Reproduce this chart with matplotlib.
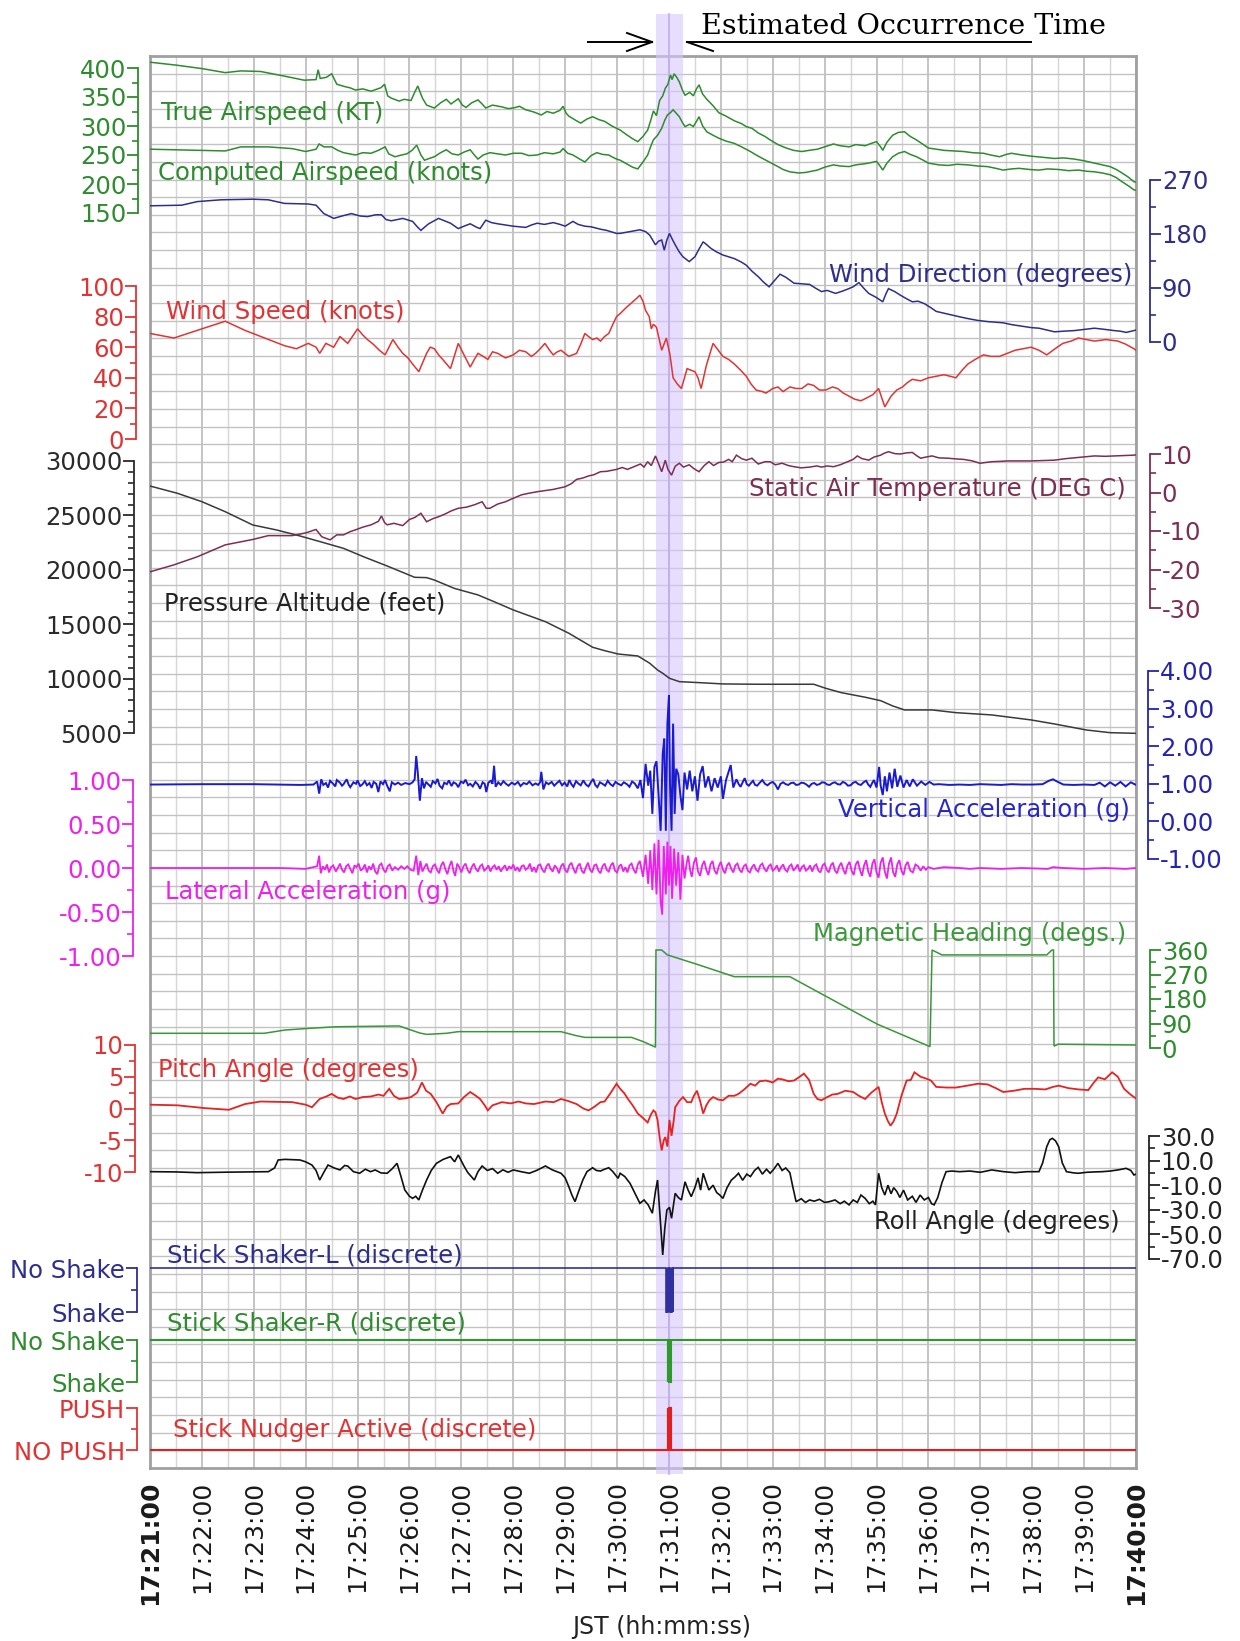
import numpy as np
import matplotlib
matplotlib.use('Agg')
import matplotlib.pyplot as plt
import matplotlib.ticker as mticker
from matplotlib.patches import Rectangle
from matplotlib.lines import Line2D
from matplotlib.transforms import blended_transform_factory

plt.rcParams['font.family'] = ['DejaVu Sans']
plt.rcParams['axes.unicode_minus'] = False

# ---- data: time in minutes after 17:21:00 ----
time_labels = ['17:%02d:00' % m for m in range(21, 41)]
event_start, event_end, event_mid = 9.75, 10.27, 10.0

true_airspeed = [(0.00,410),(0.50,405),(1.00,399),(1.45,392),(1.75,395),(2.13,394),(2.59,386),(2.97,379),(3.20,380),(3.24,397),(3.28,382),(3.40,384),(3.50,390),(3.60,372),(3.75,368),(3.85,366),(3.96,362),(4.10,364),(4.26,360),(4.45,366),(4.52,372),(4.58,352),(4.65,348),(4.80,343),(4.90,346),(5.03,344),(5.10,358),(5.16,369),(5.25,348),(5.33,336),(5.48,331),(5.60,340),(5.71,346),(5.80,338),(5.94,347),(6.02,336),(6.09,332),(6.20,340),(6.32,345),(6.40,338),(6.47,331),(6.60,336),(6.78,333),(6.90,330),(7.00,331),(7.12,334),(7.24,328),(7.40,324),(7.54,319),(7.65,325),(7.77,322),(7.90,327),(7.96,334),(8.02,322),(8.07,317),(8.20,310),(8.30,305),(8.42,312),(8.53,316),(8.65,311),(8.76,308),(8.90,300),(8.99,296),(9.06,293),(9.20,284),(9.30,278),(9.40,273),(9.50,282),(9.59,293),(9.65,310),(9.70,326),(9.76,318),(9.82,344),(9.88,352),(9.93,365),(9.98,372),(10.03,388),(10.06,380),(10.10,390),(10.15,384),(10.20,376),(10.26,362),(10.31,353),(10.40,358),(10.47,352),(10.53,364),(10.58,371),(10.65,355),(10.73,346),(10.85,335),(10.96,323),(11.10,317),(11.26,309),(11.40,304),(11.49,299),(11.60,296),(11.72,288),(11.85,282),(11.95,276),(12.10,268),(12.26,262),(12.40,258),(12.56,256),(12.70,258),(12.86,260),(13.00,264),(13.17,269),(13.30,266),(13.47,264),(13.60,268),(13.78,266),(13.90,270),(14.00,273),(14.08,264),(14.12,258),(14.20,272),(14.31,284),(14.42,289),(14.54,290),(14.65,282),(14.77,276),(14.90,268),(15.00,262),(15.15,260),(15.30,258),(15.50,257),(15.68,256),(15.85,254),(16.06,253),(16.20,250),(16.37,247),(16.50,251),(16.60,253),(16.80,250),(16.98,248),(17.20,246),(17.43,244),(17.60,245),(17.81,243),(18.00,240),(18.20,236),(18.35,233),(18.50,230),(18.62,225),(18.73,219),(18.85,212),(18.96,204),(19.00,203)]

computed_airspeed = [(0.00,260),(0.50,259),(1.00,258),(1.45,257),(1.75,264),(2.28,264),(2.74,261),(3.00,256),(3.20,260),(3.26,269),(3.35,264),(3.50,264),(3.62,258),(3.73,254),(3.85,252),(3.96,250),(4.10,254),(4.26,253),(4.40,258),(4.53,264),(4.60,252),(4.72,247),(4.85,250),(4.95,252),(5.05,258),(5.14,267),(5.22,250),(5.29,241),(5.38,244),(5.48,247),(5.60,254),(5.71,259),(5.82,252),(5.94,250),(6.05,255),(6.17,259),(6.25,250),(6.32,243),(6.42,250),(6.55,254),(6.70,252),(6.85,250),(7.00,253),(7.16,253),(7.30,249),(7.46,250),(7.60,254),(7.77,252),(7.90,255),(7.96,261),(8.05,253),(8.15,250),(8.28,243),(8.38,238),(8.50,249),(8.61,254),(8.72,251),(8.84,250),(8.92,246),(8.99,243),(9.06,241),(9.20,234),(9.30,229),(9.40,226),(9.50,238),(9.59,250),(9.65,265),(9.70,276),(9.78,284),(9.86,296),(9.92,310),(9.97,319),(10.03,323),(10.08,328),(10.14,322),(10.20,316),(10.26,306),(10.31,299),(10.40,303),(10.47,299),(10.53,308),(10.58,316),(10.65,300),(10.73,290),(10.85,284),(10.96,279),(11.10,274),(11.26,270),(11.40,264),(11.57,256),(11.70,249),(11.87,241),(12.00,235),(12.10,230),(12.20,225),(12.33,221),(12.50,219),(12.64,220),(12.75,222),(12.86,224),(13.00,229),(13.17,233),(13.30,231),(13.47,230),(13.60,233),(13.78,235),(13.90,237),(14.00,239),(14.06,232),(14.12,224),(14.20,236),(14.31,247),(14.42,253),(14.54,256),(14.65,251),(14.77,247),(14.90,241),(15.00,236),(15.20,233),(15.38,232),(15.55,234),(15.76,233),(15.95,231),(16.14,230),(16.30,227),(16.44,224),(16.60,226),(16.75,227),(16.95,225),(17.13,224),(17.30,226),(17.51,225),(17.70,223),(17.89,224),(18.05,222),(18.20,221),(18.35,219),(18.50,216),(18.62,211),(18.73,204),(18.85,197),(18.96,190),(19.00,189)]

wind_direction = [(0.00,227),(0.61,228),(0.91,234),(1.37,237),(1.98,238),(2.28,237),(2.59,231),(3.05,230),(3.20,228),(3.35,214),(3.54,206),(3.70,210),(3.88,214),(4.05,210),(4.19,209),(4.35,212),(4.46,212),(4.55,204),(4.65,202),(4.87,206),(5.06,201),(5.15,192),(5.22,186),(5.30,192),(5.37,197),(5.56,206),(5.79,198),(5.94,189),(6.05,193),(6.17,197),(6.30,191),(6.36,189),(6.47,203),(6.58,199),(6.70,197),(6.85,195),(7.00,193),(7.24,191),(7.35,195),(7.46,198),(7.60,196),(7.77,199),(7.90,196),(8.00,193),(8.15,201),(8.25,196),(8.38,193),(8.50,192),(8.68,188),(8.80,186),(8.99,181),(9.06,181),(9.25,184),(9.44,187),(9.55,184),(9.63,178),(9.74,162),(9.80,168),(9.86,170),(9.91,153),(9.96,170),(10.01,181),(10.06,172),(10.12,162),(10.20,150),(10.27,142),(10.39,134),(10.50,142),(10.58,155),(10.66,167),(10.73,162),(10.81,156),(10.92,150),(11.04,145),(11.15,142),(11.26,139),(11.40,133),(11.49,128),(11.60,118),(11.72,109),(11.82,100),(11.93,92),(12.03,102),(12.14,113),(12.25,108),(12.41,98),(12.55,97),(12.71,96),(12.82,90),(12.94,84),(13.05,86),(13.21,81),(13.35,85),(13.44,88),(13.55,92),(13.66,99),(13.75,90),(13.85,81),(14.00,74),(14.12,67),(14.18,80),(14.23,89),(14.35,84),(14.46,78),(14.58,72),(14.69,67),(14.80,68),(14.92,64),(15.05,57),(15.15,51),(15.30,48),(15.45,45),(15.60,42),(15.76,39),(15.95,36),(16.14,34),(16.30,33),(16.44,32),(16.60,29),(16.82,26),(16.98,24),(17.13,23),(17.28,20),(17.43,17),(17.60,18),(17.81,19),(18.00,21),(18.20,23),(18.40,21),(18.58,19),(18.70,18),(18.81,16),(18.96,19),(19.00,20)]

wind_speed = [(0.00,69),(0.46,66),(0.91,71),(1.45,77),(1.83,71),(2.21,66),(2.59,61),(2.82,59),(3.05,62.5),(3.20,60),(3.27,56),(3.39,62.5),(3.54,60),(3.66,67),(3.81,62.5),(4.00,72),(4.10,68),(4.19,65),(4.30,62),(4.42,58),(4.53,55),(4.68,65),(4.78,60),(4.87,56),(4.97,53),(5.06,49),(5.18,44),(5.33,56),(5.40,60),(5.48,59),(5.56,55),(5.64,52),(5.79,46),(5.94,62.5),(6.05,55),(6.17,47),(6.25,52),(6.32,56),(6.42,54),(6.51,52),(6.60,57),(6.70,56),(6.85,53),(7.00,55),(7.12,58),(7.24,57),(7.35,54),(7.43,56),(7.52,59),(7.61,62.5),(7.70,58),(7.77,55),(7.85,57),(7.92,58),(8.07,54),(8.22,56),(8.30,62),(8.38,69),(8.45,67),(8.53,65),(8.61,66),(8.68,64),(8.76,67),(8.84,69),(8.92,75),(8.99,80),(9.06,82),(9.18,86),(9.28,89),(9.38,92),(9.44,94),(9.50,90),(9.55,84),(9.62,80),(9.66,72),(9.70,75),(9.76,73),(9.82,64),(9.86,58),(9.95,66),(10.02,55),(10.08,40),(10.16,36),(10.24,33),(10.30,40),(10.35,46),(10.42,45),(10.50,44),(10.56,40),(10.62,33),(10.72,48),(10.85,62.5),(10.95,58),(11.04,54),(11.15,52),(11.26,49),(11.38,45),(11.49,41),(11.58,36),(11.68,32),(11.80,31),(11.87,30),(12.00,33),(12.10,34),(12.20,31),(12.33,34),(12.45,33),(12.56,33),(12.68,36),(12.79,35),(12.90,32),(13.02,32),(13.15,34),(13.25,33),(13.36,30),(13.47,28),(13.58,26),(13.70,25),(13.82,27),(13.93,29),(14.04,33),(14.10,27),(14.16,21),(14.28,28),(14.39,32),(14.50,34),(14.60,37),(14.69,39),(14.85,38),(15.00,40),(15.15,41),(15.30,42),(15.42,41),(15.53,40),(15.65,45),(15.76,49),(15.90,52),(16.06,55),(16.20,54),(16.37,54),(16.52,56),(16.67,58),(16.82,59),(16.98,60),(17.13,58),(17.28,55),(17.44,59),(17.59,62.5),(17.75,64),(17.89,66),(18.05,65),(18.20,64),(18.42,65),(18.65,64),(18.80,62),(18.96,59),(19.00,58)]

static_air_temp = [(0.00,-20.6),(0.46,-18.8),(0.91,-16.7),(1.45,-13.6),(1.98,-12.2),(2.28,-11.2),(2.74,-11.2),(3.00,-10.5),(3.20,-9.6),(3.31,-11.5),(3.47,-12.3),(3.60,-11.0),(3.73,-11.0),(3.85,-10.2),(3.96,-9.7),(4.10,-9.0),(4.26,-8.4),(4.40,-7.5),(4.46,-6.1),(4.52,-7.8),(4.57,-8.4),(4.70,-8.0),(4.87,-8.6),(5.00,-7.0),(5.10,-6.5),(5.22,-5.4),(5.33,-7.6),(5.45,-6.8),(5.56,-6.3),(5.70,-5.5),(5.80,-4.8),(5.94,-4.1),(6.10,-3.8),(6.25,-3.2),(6.40,-2.4),(6.48,-4.1),(6.55,-4.1),(6.70,-3.0),(6.85,-2.4),(7.00,-1.5),(7.16,-0.6),(7.30,-0.2),(7.46,0.2),(7.62,0.5),(7.77,0.8),(7.90,1.2),(8.00,1.5),(8.12,2.3),(8.22,3.4),(8.35,3.8),(8.45,4.3),(8.55,4.6),(8.68,5.4),(8.80,5.5),(8.99,6.0),(9.10,6.5),(9.20,6.0),(9.36,6.9),(9.45,7.4),(9.52,6.6),(9.59,8.0),(9.66,7.0),(9.74,9.5),(9.80,7.5),(9.86,5.4),(9.93,8.4),(9.98,6.0),(10.05,4.5),(10.12,6.8),(10.20,7.6),(10.28,6.6),(10.39,7.2),(10.48,6.2),(10.58,5.4),(10.68,7.0),(10.77,8.0),(10.86,7.0),(10.96,7.8),(11.05,7.9),(11.15,8.6),(11.22,8.0),(11.30,9.7),(11.40,8.8),(11.49,8.4),(11.60,8.9),(11.72,7.4),(11.85,8.0),(11.95,8.0),(12.05,7.2),(12.18,7.6),(12.30,7.0),(12.41,6.7),(12.55,6.4),(12.71,6.6),(12.85,6.9),(12.94,6.6),(13.05,6.9),(13.17,6.7),(13.30,7.2),(13.44,8.0),(13.55,8.6),(13.63,9.5),(13.72,8.8),(13.85,8.4),(13.95,9.2),(14.08,9.7),(14.15,10.2),(14.23,10.6),(14.35,10.1),(14.46,10.0),(14.58,10.3),(14.69,10.4),(14.77,9.6),(14.85,8.9),(14.95,9.2),(15.07,9.5),(15.20,9.0),(15.38,8.9),(15.55,8.7),(15.68,8.6),(15.85,8.2),(15.99,7.6),(16.10,7.8),(16.22,8.0),(16.40,8.1),(16.52,8.2),(16.75,8.2),(16.98,8.2),(17.20,8.3),(17.43,8.4),(17.65,8.8),(17.89,9.1),(18.05,9.3),(18.20,9.5),(18.40,9.4),(18.58,9.5),(18.80,9.6),(18.96,9.7),(19.00,9.8)]

pressure_altitude = [(0.00,27700),(0.53,27030),(1.00,26260),(1.45,25340),(1.98,24120),(2.44,23660),(2.89,23110),(3.35,22490),(3.73,21970),(4.11,21210),(4.57,20350),(5.10,19310),(5.33,19280),(5.48,19060),(5.86,18300),(6.32,17690),(6.63,17070),(7.00,16310),(7.62,15230),(8.07,14170),(8.53,12880),(8.76,12570),(9.02,12260),(9.40,12080),(9.63,11410),(9.78,10790),(9.88,10490),(10.01,10030),(10.20,9720),(10.58,9630),(11.04,9510),(11.72,9480),(12.79,9480),(13.02,9110),(13.32,8710),(13.78,8290),(14.08,7970),(14.31,7490),(14.54,7120),(15.07,7120),(15.53,6870),(16.22,6660),(16.98,6200),(17.43,5830),(18.04,5280),(18.50,5030),(19.00,4970)]

vertical_accel = [(0.00,0.98),(1.00,0.99),(2.00,0.99),(2.90,0.97),(3.15,0.98),(3.22,1.06),(3.26,0.74),(3.30,1.12),(3.34,0.97),(3.39,1.02),(3.43,0.90),(3.47,1.08),(3.53,1.00),(3.57,0.93),(3.60,1.10),(3.66,1.03),(3.70,0.95),(3.73,0.99),(3.79,1.12),(3.83,0.97),(3.86,0.91),(3.92,1.04),(3.97,1.00),(4.00,1.09),(4.05,0.94),(4.09,0.98),(4.14,1.07),(4.18,0.96),(4.23,1.02),(4.27,0.89),(4.31,1.05),(4.36,1.00),(4.40,0.78),(4.44,1.06),(4.49,0.99),(4.53,1.10),(4.57,0.95),(4.62,0.80),(4.66,1.04),(4.72,0.98),(4.78,1.03),(4.84,0.97),(4.92,1.02),(5.00,0.99),(5.06,1.04),(5.10,1.12),(5.13,1.74),(5.16,1.30),(5.20,0.55),(5.24,1.15),(5.28,0.88),(5.32,1.05),(5.36,0.99),(5.41,0.92),(5.45,1.07),(5.50,1.01),(5.54,1.13),(5.58,0.95),(5.63,0.88),(5.67,1.03),(5.72,0.99),(5.76,1.09),(5.81,0.94),(5.85,1.04),(5.90,1.00),(5.94,0.91),(5.99,1.06),(6.04,1.02),(6.08,1.11),(6.13,0.96),(6.17,1.00),(6.22,0.93),(6.27,1.05),(6.32,0.98),(6.36,0.87),(6.41,1.04),(6.45,1.00),(6.48,0.78),(6.52,1.03),(6.57,1.08),(6.60,1.00),(6.63,1.48),(6.66,0.92),(6.71,1.04),(6.76,0.97),(6.81,1.07),(6.86,1.00),(6.91,0.95),(6.97,1.03),(7.03,0.98),(7.09,1.05),(7.14,0.94),(7.20,1.02),(7.26,0.99),(7.31,1.06),(7.37,0.96),(7.43,1.01),(7.48,0.97),(7.52,1.05),(7.54,1.32),(7.58,0.85),(7.63,1.04),(7.68,0.99),(7.74,1.05),(7.79,0.95),(7.84,1.02),(7.89,1.08),(7.94,0.96),(7.99,1.03),(8.04,0.93),(8.08,1.10),(8.12,0.99),(8.16,0.92),(8.21,1.07),(8.26,1.00),(8.30,0.96),(8.35,1.09),(8.40,0.98),(8.45,0.93),(8.50,1.05),(8.54,1.13),(8.58,0.97),(8.62,0.91),(8.67,1.04),(8.72,1.00),(8.77,0.95),(8.82,1.08),(8.87,0.99),(8.92,0.94),(8.97,1.05),(9.02,1.00),(9.08,0.96),(9.13,1.04),(9.19,0.99),(9.24,0.92),(9.29,1.06),(9.34,1.01),(9.40,0.88),(9.45,1.10),(9.50,0.62),(9.55,1.53),(9.60,0.95),(9.64,1.35),(9.68,0.20),(9.72,1.45),(9.76,1.60),(9.80,0.70),(9.84,-0.25),(9.88,1.80),(9.91,2.20),(9.94,-0.25),(9.97,2.60),(10.00,3.35),(10.02,1.00),(10.05,-0.25),(10.08,2.60),(10.11,0.20),(10.14,1.40),(10.18,1.25),(10.22,0.70),(10.26,0.30),(10.30,1.30),(10.35,0.85),(10.40,1.35),(10.45,0.80),(10.50,1.20),(10.55,0.55),(10.60,1.25),(10.65,1.47),(10.70,0.90),(10.76,1.20),(10.82,0.80),(10.88,1.15),(10.94,0.90),(11.00,1.20),(11.04,0.60),(11.10,1.10),(11.19,1.50),(11.24,0.90),(11.30,1.12),(11.34,1.00),(11.38,0.92),(11.42,1.04),(11.46,1.15),(11.50,0.99),(11.54,0.95),(11.58,1.02),(11.62,1.08),(11.66,0.97),(11.70,0.95),(11.75,1.03),(11.80,1.10),(11.85,1.00),(11.90,0.96),(11.95,1.02),(12.00,1.05),(12.05,0.98),(12.10,0.85),(12.15,1.00),(12.20,1.04),(12.25,0.99),(12.30,0.97),(12.35,1.02),(12.40,1.03),(12.45,0.97),(12.50,0.98),(12.55,1.03),(12.60,1.02),(12.65,0.98),(12.70,0.92),(12.75,1.00),(12.80,1.02),(12.85,0.97),(12.90,0.99),(12.95,1.04),(13.00,1.03),(13.05,0.98),(13.10,0.97),(13.15,1.02),(13.20,1.04),(13.25,0.99),(13.30,0.98),(13.35,1.05),(13.40,1.02),(13.45,0.95),(13.50,0.96),(13.55,1.03),(13.60,1.05),(13.65,0.99),(13.70,0.97),(13.75,1.04),(13.80,1.08),(13.84,0.98),(13.88,0.92),(13.92,1.03),(13.95,1.10),(14.00,0.90),(14.05,1.45),(14.08,0.95),(14.12,0.70),(14.16,1.20),(14.20,0.80),(14.25,1.30),(14.30,0.88),(14.35,1.40),(14.40,0.92),(14.46,1.22),(14.52,0.90),(14.58,1.10),(14.64,0.93),(14.70,1.12),(14.78,0.95),(14.86,1.06),(14.94,0.97),(15.02,1.05),(15.10,0.98),(15.20,0.99),(15.40,0.97),(15.60,0.98),(15.80,0.97),(16.00,0.99),(16.20,0.98),(16.40,0.97),(16.60,0.99),(16.80,0.98),(17.00,0.98),(17.20,0.99),(17.32,1.08),(17.40,1.12),(17.48,1.06),(17.60,0.98),(17.80,0.97),(18.00,0.98),(18.20,0.97),(18.30,1.03),(18.40,0.93),(18.50,1.04),(18.60,0.95),(18.70,1.05),(18.80,0.93),(18.90,1.04),(19.00,0.97)]

lateral_accel = [(0.00,0.00),(2.50,0.00),(3.00,-0.01),(3.22,0.02),(3.26,0.14),(3.29,-0.06),(3.33,0.02),(3.37,-0.02),(3.41,0.04),(3.45,-0.05),(3.49,0.01),(3.53,0.03),(3.58,-0.04),(3.62,0.00),(3.66,0.05),(3.70,-0.02),(3.74,-0.05),(3.78,0.02),(3.82,0.04),(3.86,-0.01),(3.90,-0.06),(3.94,0.03),(3.98,0.01),(4.02,0.05),(4.06,-0.03),(4.10,-0.01),(4.14,0.04),(4.18,-0.05),(4.22,0.02),(4.26,-0.02),(4.30,0.05),(4.34,-0.04),(4.38,-0.07),(4.42,0.03),(4.46,0.05),(4.50,-0.02),(4.54,-0.05),(4.58,0.02),(4.62,0.04),(4.67,-0.03),(4.72,0.01),(4.78,-0.02),(4.84,0.02),(4.90,-0.01),(4.96,0.02),(5.02,-0.02),(5.08,-0.03),(5.13,0.14),(5.17,-0.08),(5.21,0.08),(5.25,-0.04),(5.29,0.01),(5.33,0.05),(5.37,-0.03),(5.41,-0.05),(5.45,0.02),(5.49,0.04),(5.53,-0.02),(5.57,-0.06),(5.61,0.03),(5.65,0.07),(5.69,-0.01),(5.73,-0.07),(5.77,0.02),(5.81,0.08),(5.85,-0.04),(5.88,-0.09),(5.92,0.05),(5.96,0.01),(6.00,-0.05),(6.04,0.02),(6.08,0.05),(6.12,-0.02),(6.16,-0.06),(6.20,0.01),(6.24,0.05),(6.28,-0.01),(6.32,-0.04),(6.36,0.02),(6.40,0.04),(6.44,-0.03),(6.48,-0.01),(6.52,0.03),(6.56,-0.04),(6.60,0.01),(6.64,0.03),(6.68,-0.02),(6.72,0.02),(6.76,-0.04),(6.80,0.00),(6.84,0.03),(6.88,-0.03),(6.92,0.02),(6.96,-0.01),(7.00,0.04),(7.04,-0.03),(7.08,0.01),(7.12,-0.04),(7.16,0.02),(7.20,0.03),(7.24,-0.02),(7.28,0.00),(7.32,0.05),(7.36,-0.04),(7.40,0.01),(7.44,-0.05),(7.48,0.03),(7.52,0.04),(7.56,-0.02),(7.60,-0.05),(7.64,0.02),(7.68,0.05),(7.72,-0.01),(7.76,-0.04),(7.80,0.03),(7.84,0.00),(7.88,-0.06),(7.92,0.02),(7.96,0.05),(8.00,-0.02),(8.04,-0.05),(8.08,0.03),(8.12,0.06),(8.16,-0.01),(8.20,-0.06),(8.24,0.02),(8.28,0.05),(8.32,-0.03),(8.36,-0.06),(8.40,0.01),(8.44,0.06),(8.48,-0.02),(8.52,-0.05),(8.56,0.03),(8.60,0.04),(8.64,-0.03),(8.68,-0.06),(8.72,0.02),(8.76,0.05),(8.80,-0.02),(8.84,-0.04),(8.88,0.03),(8.92,0.06),(8.96,-0.03),(9.00,-0.05),(9.04,0.02),(9.08,0.04),(9.12,-0.04),(9.16,0.01),(9.20,-0.05),(9.24,0.03),(9.28,0.05),(9.32,-0.02),(9.36,-0.06),(9.40,0.04),(9.44,0.08),(9.50,-0.10),(9.55,0.15),(9.60,-0.18),(9.64,0.20),(9.68,-0.25),(9.72,0.28),(9.76,-0.30),(9.80,0.32),(9.84,-0.38),(9.87,-0.53),(9.90,0.25),(9.94,-0.30),(9.97,0.30),(10.00,-0.20),(10.03,0.25),(10.06,-0.35),(10.10,0.22),(10.14,-0.20),(10.18,0.18),(10.22,-0.36),(10.26,0.15),(10.30,-0.12),(10.34,0.05),(10.37,0.14),(10.41,-0.03),(10.44,-0.10),(10.48,0.06),(10.52,0.12),(10.56,-0.04),(10.60,-0.09),(10.64,0.03),(10.68,0.08),(10.72,-0.02),(10.76,-0.08),(10.80,0.04),(10.84,0.08),(10.88,-0.03),(10.92,-0.07),(10.96,0.02),(11.00,0.07),(11.04,-0.02),(11.08,-0.06),(11.12,0.03),(11.16,0.06),(11.20,-0.01),(11.24,-0.05),(11.28,0.03),(11.32,0.05),(11.36,-0.02),(11.40,-0.05),(11.44,0.02),(11.48,0.04),(11.52,-0.03),(11.56,-0.05),(11.60,0.01),(11.64,0.04),(11.68,-0.02),(11.72,-0.04),(11.76,0.03),(11.80,0.05),(11.84,-0.01),(11.88,-0.04),(11.92,0.02),(11.96,0.04),(12.00,-0.03),(12.04,-0.01),(12.08,0.03),(12.12,-0.04),(12.16,0.01),(12.20,0.04),(12.24,-0.02),(12.28,-0.04),(12.32,0.02),(12.36,0.04),(12.40,-0.03),(12.44,0.00),(12.48,0.04),(12.52,-0.04),(12.56,0.01),(12.60,0.03),(12.64,-0.03),(12.68,-0.01),(12.72,0.03),(12.76,-0.04),(12.80,0.02),(12.84,0.04),(12.88,-0.03),(12.92,-0.05),(12.96,0.03),(13.00,0.05),(13.04,-0.02),(13.08,-0.05),(13.12,0.03),(13.16,0.06),(13.20,-0.03),(13.24,-0.06),(13.28,0.02),(13.32,0.06),(13.36,-0.02),(13.40,-0.07),(13.44,0.03),(13.48,0.07),(13.52,-0.03),(13.56,-0.08),(13.60,0.04),(13.64,0.08),(13.68,-0.02),(13.72,-0.09),(13.76,0.03),(13.80,0.09),(13.84,-0.04),(13.88,-0.10),(13.92,0.05),(13.96,0.10),(14.00,-0.05),(14.04,-0.11),(14.08,0.06),(14.12,0.12),(14.16,-0.04),(14.20,-0.12),(14.24,0.05),(14.28,0.12),(14.32,-0.05),(14.36,-0.10),(14.40,0.04),(14.44,0.09),(14.48,-0.03),(14.52,-0.08),(14.56,0.03),(14.60,0.07),(14.65,-0.03),(14.70,-0.05),(14.75,0.04),(14.80,0.02),(14.85,-0.03),(14.90,0.02),(14.95,-0.02),(15.00,0.01),(15.10,-0.01),(15.30,0.01),(15.60,0.00),(15.80,-0.01),(16.00,0.00),(16.40,-0.01),(16.80,0.00),(17.30,-0.01),(17.40,0.01),(17.60,0.00),(18.00,-0.01),(18.40,0.00),(18.80,-0.01),(19.00,0.00)]

magnetic_heading = [(0.0,54),(2.2,54),(2.6,66),(3.05,72),(3.58,78),(4.8,81),(5.03,66),(5.2,55),(5.33,50),(5.71,54),(5.94,60),(7.92,60),(8.2,46),(8.38,39),(9.28,39),(9.51,23),(9.74,3),(9.75,360),(9.86,360),(9.97,342),(10.58,305),(11.26,262),(12.33,262),(14.01,88),(15.03,5),(15.07,360),(15.26,342),(17.28,342),(17.38,360),(17.41,360),(17.42,7),(17.5,14),(19.0,11)]

pitch_angle = [(0.00,0.6),(0.53,0.5),(1.07,0.05),(1.52,-0.2),(1.83,0.7),(2.13,1.1),(2.74,1.0),(3.00,0.6),(3.12,0.2),(3.27,1.5),(3.40,1.9),(3.50,2.3),(3.62,1.7),(3.73,1.5),(3.85,1.9),(3.96,1.5),(4.10,1.8),(4.26,1.9),(4.40,2.2),(4.50,2.0),(4.61,3.1),(4.70,2.0),(4.80,1.5),(4.92,1.6),(5.03,1.8),(5.15,2.5),(5.24,4.1),(5.32,2.8),(5.41,2.3),(5.52,1.0),(5.64,-0.8),(5.72,0.3),(5.79,0.7),(5.94,0.8),(6.05,1.8),(6.17,2.6),(6.28,2.0),(6.36,1.5),(6.45,0.5),(6.51,-0.3),(6.60,0.5),(6.78,1.0),(6.95,0.8),(7.10,1.1),(7.24,0.8),(7.40,0.7),(7.62,1.1),(7.78,1.0),(7.92,1.5),(8.05,1.2),(8.22,0.7),(8.35,0.0),(8.45,-0.3),(8.55,0.2),(8.68,1.0),(8.76,1.1),(8.88,2.5),(8.99,3.9),(9.06,3.1),(9.14,2.4),(9.21,1.5),(9.30,0.5),(9.40,-0.8),(9.50,-1.5),(9.59,-2.2),(9.65,-1.0),(9.70,-0.3),(9.74,-0.6),(9.78,-1.8),(9.82,-4.5),(9.86,-6.6),(9.90,-5.0),(9.93,-4.5),(9.97,-6.0),(10.01,-1.8),(10.05,-4.3),(10.09,-2.0),(10.12,0.2),(10.20,1.2),(10.27,1.8),(10.35,1.0),(10.43,1.0),(10.48,2.0),(10.54,2.8),(10.60,1.2),(10.66,-0.8),(10.72,0.5),(10.78,1.3),(10.85,1.8),(10.95,1.4),(11.04,1.3),(11.15,2.0),(11.26,2.0),(11.34,2.3),(11.45,3.0),(11.57,3.9),(11.66,3.6),(11.75,4.3),(11.87,4.4),(12.00,4.1),(12.10,4.7),(12.18,4.6),(12.30,4.3),(12.41,4.4),(12.52,5.0),(12.60,5.5),(12.70,4.5),(12.79,2.3),(12.86,1.5),(12.94,1.3),(13.05,1.8),(13.15,2.2),(13.25,2.3),(13.40,2.8),(13.55,2.6),(13.66,2.0),(13.78,1.5),(13.90,2.5),(14.04,3.4),(14.10,1.0),(14.16,-0.8),(14.22,-2.0),(14.27,-2.7),(14.33,-2.0),(14.39,-0.8),(14.48,2.0),(14.58,4.4),(14.66,4.5),(14.73,5.7),(14.85,5.0),(14.96,4.7),(15.05,4.4),(15.15,3.4),(15.35,3.3),(15.53,3.3),(15.75,3.6),(15.95,3.9),(16.14,3.8),(16.30,3.2),(16.44,2.6),(16.65,2.8),(16.85,3.1),(17.05,3.1),(17.25,3.0),(17.40,3.4),(17.51,3.6),(17.70,3.2),(17.90,3.0),(18.08,2.9),(18.18,4.0),(18.27,4.9),(18.40,4.6),(18.54,5.7),(18.65,5.0),(18.77,3.1),(18.88,2.3),(18.96,1.8),(19.00,1.6)]

roll_angle = [(0.00,1.0),(0.50,0.8),(0.91,0.2),(1.50,0.6),(2.28,1.0),(2.40,4.0),(2.47,10.5),(2.60,11.0),(2.89,10.5),(3.00,9.0),(3.12,6.4),(3.20,2.0),(3.27,-5.8),(3.35,0.5),(3.43,6.4),(3.55,4.0),(3.66,2.4),(3.75,6.0),(3.81,5.6),(3.92,1.0),(4.04,-0.3),(4.15,3.0),(4.25,1.0),(4.34,2.4),(4.45,0.0),(4.57,-0.3),(4.67,3.5),(4.76,7.8),(4.83,-2.0),(4.91,-13.9),(5.00,-19.0),(5.06,-20.7),(5.12,-19.0),(5.18,-22.0),(5.25,-14.0),(5.33,-5.8),(5.42,2.0),(5.52,7.8),(5.65,11.0),(5.79,13.2),(5.87,9.0),(5.94,14.6),(6.05,5.6),(6.12,0.5),(6.25,-5.8),(6.32,1.0),(6.40,5.6),(6.50,2.0),(6.60,3.5),(6.70,-0.3),(6.80,2.5),(6.90,0.5),(7.00,2.4),(7.15,1.0),(7.31,-0.3),(7.45,2.0),(7.62,5.6),(7.75,2.5),(7.92,-0.3),(8.00,-4.0),(8.07,-11.2),(8.13,-18.0),(8.19,-23.4),(8.26,-15.0),(8.34,-5.8),(8.42,1.0),(8.53,4.2),(8.60,2.0),(8.68,1.5),(8.76,3.0),(8.84,4.2),(8.92,1.0),(9.02,-4.4),(9.06,-0.3),(9.15,-3.0),(9.25,-8.5),(9.35,-17.0),(9.44,-24.7),(9.52,-22.0),(9.60,-26.0),(9.68,-32.8),(9.74,-15.0),(9.78,-5.8),(9.82,-30.0),(9.86,-55.0),(9.88,-66.7),(9.92,-45.0),(9.96,-30.2),(10.01,-28.0),(10.05,-36.9),(10.09,-25.0),(10.12,-16.6),(10.18,-20.0),(10.24,-22.0),(10.31,-7.2),(10.37,-14.0),(10.43,-19.3),(10.50,-12.0),(10.56,-4.0),(10.61,-14.0),(10.66,-0.3),(10.72,-8.0),(10.77,-13.9),(10.85,-10.0),(10.92,-16.0),(10.98,-18.0),(11.04,-20.7),(11.12,-12.0),(11.20,-6.0),(11.28,-3.0),(11.34,-0.3),(11.42,-6.0),(11.50,-1.0),(11.57,-3.0),(11.65,2.0),(11.72,4.5),(11.80,-1.0),(11.88,3.0),(11.95,-0.3),(12.02,3.0),(12.10,7.8),(12.18,2.0),(12.25,4.0),(12.33,0.2),(12.38,-10.0),(12.45,-23.4),(12.55,-21.0),(12.63,-24.0),(12.71,-22.0),(12.80,-23.0),(12.90,-21.5),(13.00,-24.0),(13.09,-23.4),(13.20,-22.0),(13.30,-25.0),(13.38,-23.0),(13.47,-26.0),(13.55,-22.0),(13.63,-24.0),(13.70,-18.0),(13.78,-20.7),(13.86,-25.0),(13.93,-23.0),(13.98,-26.0),(14.04,-0.3),(14.10,-12.0),(14.16,-18.0),(14.22,-10.0),(14.28,-17.0),(14.33,-12.0),(14.39,-15.0),(14.45,-20.0),(14.52,-14.0),(14.60,-22.0),(14.69,-19.0),(14.76,-24.0),(14.84,-18.0),(14.92,-22.0),(15.00,-20.0),(15.06,-25.0),(15.11,-26.0),(15.18,-20.0),(15.26,-8.0),(15.34,1.0),(15.45,1.5),(15.60,1.0),(15.80,1.5),(16.00,0.5),(16.22,2.4),(16.45,1.0),(16.67,0.2),(16.90,1.0),(17.13,1.0),(17.20,8.0),(17.28,21.3),(17.34,27.0),(17.39,28.1),(17.45,26.0),(17.51,21.3),(17.58,8.0),(17.66,1.0),(17.80,0.0),(17.89,-0.3),(18.05,0.5),(18.20,0.8),(18.35,1.0),(18.50,1.5),(18.65,2.4),(18.81,3.7),(18.90,2.0),(18.96,-1.7),(19.00,-1.0)]

# discrete states: 0 = No Shake / NO PUSH, 1 = Shake / PUSH
stick_shaker_l = [(0.0,0),(9.95,0),(9.95,1),(9.96,1),(9.96,0),(9.97,0),(9.97,1),(9.985,1),(9.985,0),(9.995,0),(9.995,1),(10.01,1),(10.01,0),(10.02,0),(10.02,1),(10.035,1),(10.035,0),(10.045,0),(10.045,1),(10.06,1),(10.06,0),(10.07,0),(10.07,1),(10.085,1),(10.085,0),(19.0,0)]
stick_shaker_r = [(0.0,0),(9.975,0),(9.975,1),(9.99,1),(9.99,0),(10.0,0),(10.0,1),(10.015,1),(10.015,0),(10.025,0),(10.025,1),(10.04,1),(10.04,0),(19.0,0)]
stick_nudger = [(0.0,0),(9.975,0),(9.975,1),(9.99,1),(9.99,0),(10.0,0),(10.0,1),(10.015,1),(10.015,0),(10.025,0),(10.025,1),(10.035,1),(10.035,0),(19.0,0)]

# ---- layout (pixels of the 1240x1641 image) ----
W, H = 1240, 1641
L, R, T, B = 150, 1136, 56, 1468
rect = [L / W, 1 - B / H, (R - L) / W, (B - T) / H]

GREEN = '#2e8b2e'
NAVY = '#2e2e8c'
RED = '#e03434'
MAROON = '#7d2e52'
DARK = '#333333'
BLUE = '#1a1ad0'
MAGENTA = '#ec22ec'
FS = 17.5

fig = plt.figure(figsize=(W / 100, H / 100), dpi=100)

# background grid axes
bg = fig.add_axes(rect, label='grid')
bg.set_xlim(0, 19)
bg.set_ylim(0, 80)
bg.set_xticks(range(20))
bg.set_xticks(np.arange(0.5, 19, 1), minor=True)
bg.set_yticks(range(81))
bg.grid(True, which='major', axis='x', color='#b4b4b4', lw=1.1)
bg.grid(True, which='minor', axis='x', color='#d6d6d6', lw=1.0)
bg.grid(True, which='major', axis='y', color='#c2c2c2', lw=1.0)
bg.set_yticklabels([])
bg.tick_params(axis='both', which='both', length=0)
bg.set_xticklabels(time_labels, rotation=90, fontsize=18, color='#1a1a1a')
for i, lab in enumerate(bg.get_xticklabels()):
    if i in (0, len(time_labels) - 1):
        lab.set_fontweight('bold')
bg.tick_params(axis='x', pad=9)
for s in bg.spines.values():
    s.set_color('#a0a0a0')
    s.set_linewidth(2.0)

# estimated occurrence band
tr = blended_transform_factory(bg.transData, fig.transFigure)
bg.add_patch(Rectangle((event_start, 1 - 1474 / H), event_end - event_start, (1474 - 14) / H,
                       transform=tr, facecolor='#d6c9fb', alpha=0.6, edgecolor='none',
                       clip_on=False, zorder=3))
bg.add_line(Line2D([event_mid, event_mid], [1 - 1474 / H, 1 - 14 / H], transform=tr,
                   color='#c0acf0', lw=1.2, clip_on=False, zorder=3))


def overlay(name, anchors, side, outward, color, ticks, minor, fmt, labelcolor=None):
    (va, ya), (vb, yb) = anchors
    k = (vb - va) / (yb - ya)
    ax = fig.add_axes(rect, label=name)
    ax.patch.set_visible(False)
    ax.set_xlim(0, 19)
    ax.set_ylim(va + (B - ya) * k, va + (T - ya) * k)
    ax.xaxis.set_visible(False)
    for s in ('top', 'bottom', 'left', 'right'):
        ax.spines[s].set_visible(s == side)
    sp = ax.spines[side]
    sp.set_position(('outward', outward * 0.72))
    sp.set_bounds(min(ticks), max(ticks))
    sp.set_color(color)
    sp.set_linewidth(1.3)
    ax.yaxis.set_ticks_position(side)
    ax.set_yticks(ticks)
    ax.set_yticks(minor, minor=True)
    if isinstance(fmt, list):
        ax.set_yticklabels(fmt)
    else:
        ax.yaxis.set_major_formatter(mticker.FormatStrFormatter(fmt))
    ax.tick_params(axis='y', which='major', direction='out', length=8, width=1.3,
                   color=color, labelcolor=labelcolor or color, labelsize=FS, pad=0.5)
    ax.tick_params(axis='y', which='minor', direction='out', length=4.5, width=1.2, color=color)
    return ax


def plot_series(ax, series, color, lw=1.1, alpha=1.0):
    arr = np.array(series, dtype=float)
    ax.plot(arr[:, 0], arr[:, 1], color=color, lw=lw, alpha=alpha, solid_joinstyle='miter')


ax_spd = overlay('airspeed', [(400, 68), (150, 213)], 'left', 12, GREEN,
                 [150, 200, 250, 300, 350, 400], np.arange(175, 400, 50), '%d')
plot_series(ax_spd, true_airspeed, GREEN)
plot_series(ax_spd, computed_airspeed, GREEN)

ax_wd = overlay('winddir', [(270, 180), (0, 342)], 'right', 14, NAVY,
                [0, 90, 180, 270], [45, 135, 225], '%d')
plot_series(ax_wd, wind_direction, NAVY)

ax_ws = overlay('windspd', [(100, 286), (0, 439)], 'left', 14, RED,
                [0, 20, 40, 60, 80, 100], np.arange(10, 100, 20), '%d')
plot_series(ax_ws, wind_speed, RED)

ax_alt = overlay('alt', [(30000, 461), (5000, 733)], 'left', 16, '#2a2a2a',
                 [5000, 10000, 15000, 20000, 25000, 30000],
                 [v for v in range(6000, 30000, 1000) if v % 5000], '%d')
plot_series(ax_alt, pressure_altitude, '#3a3a3a')

ax_sat = overlay('sat', [(10, 454), (-30, 608)], 'right', 14, MAROON,
                 [-30, -20, -10, 0, 10], [-25, -15, -5, 5], '%d')
plot_series(ax_sat, static_air_temp, MAROON)

ax_va = overlay('vacc', [(4, 671), (-1, 859)], 'right', 12, '#2424b0',
                [-1, 0, 1, 2, 3, 4], [-0.5, 0.5, 1.5, 2.5, 3.5], '%.2f')
plot_series(ax_va, vertical_accel, BLUE, lw=1.4)

ax_la = overlay('lacc', [(1, 780), (-1, 956)], 'left', 17, MAGENTA,
                [-1, -0.5, 0, 0.5, 1], [-0.75, -0.25, 0.25, 0.75], '%.2f')
plot_series(ax_la, lateral_accel, MAGENTA, lw=1.3)

ax_hd = overlay('heading', [(360, 950), (0, 1048)], 'right', 14, GREEN,
                [0, 90, 180, 270, 360], [45, 135, 225, 315], '%d')
plot_series(ax_hd, magnetic_heading, '#3a963a')

ax_pt = overlay('pitch', [(10, 1045), (-10, 1172)], 'left', 15, RED,
                [-10, -5, 0, 5, 10], [-7.5, -2.5, 2.5, 7.5], '%d')
plot_series(ax_pt, pitch_angle, '#e62222', lw=1.3)

ax_rl = overlay('roll', [(30, 1136), (-70, 1259)], 'right', 13, '#222222',
                [-70, -50, -30, -10, 10, 30], [-60, -40, -20, 0, 20], '%.1f')
plot_series(ax_rl, roll_angle, '#111111', lw=1.2)

ax_sl = overlay('shakerL', [(0, 1268), (1, 1312)], 'left', 13, NAVY,
                [0, 1], [0.5], ['No Shake', 'Shake'])
plot_series(ax_sl, stick_shaker_l, '#3030a0', lw=1.2)

ax_sr = overlay('shakerR', [(0, 1340), (1, 1382)], 'left', 13, GREEN,
                [0, 1], [0.5], ['No Shake', 'Shake'])
plot_series(ax_sr, stick_shaker_r, '#2e9a2e', lw=1.5)

ax_nd = overlay('nudger', [(0, 1450), (1, 1408)], 'left', 13, RED,
                [0, 1], [0.5], ['NO PUSH', 'PUSH'])
plot_series(ax_nd, stick_nudger, '#e02020', lw=1.5)


# ---- parameter names ----
def label(x, y, s, color, ha='left'):
    fig.text(x / W, 1 - y / H, s, color=color, fontsize=FS, ha=ha, va='center')


label(161, 113, 'True Airspeed (KT)', GREEN)
label(158, 173, 'Computed Airspeed (knots)', GREEN)
label(1132, 275, 'Wind Direction (degrees)', NAVY, 'right')
label(166, 312, 'Wind Speed (knots)', RED)
label(1126, 489, 'Static Air Temperature (DEG C)', MAROON, 'right')
label(164, 603, 'Pressure Altitude (feet)', '#222222')
label(1130, 810, 'Vertical Acceleration (g)', '#2828c8', 'right')
label(165, 892, 'Lateral Acceleration (g)', MAGENTA)
label(1126, 934, 'Magnetic Heading (degs.)', '#3a9a3a', 'right')
label(158, 1070, 'Pitch Angle (degrees)', RED)
label(1120, 1222, 'Roll Angle (degrees)', '#222222', 'right')
label(167, 1256, 'Stick Shaker-L (discrete)', NAVY)
label(167, 1323, 'Stick Shaker-R (discrete)', GREEN)
label(173, 1430, 'Stick Nudger Active (discrete)', RED)

fig.text(662 / W, 1 - 1627 / H, 'JST (hh:mm:ss)', fontsize=17, color='#222222',
         ha='center', va='center')

# ---- title with arrows ----
fig.text(701 / W, 1 - 34 / H, 'Estimated Occurrence Time', family='DejaVu Serif',
         fontsize=20.5, color='black', ha='left', va='baseline')


def seg(x0, y0, x1, y1):
    fig.add_artist(Line2D([x0 / W, x1 / W], [1 - y0 / H, 1 - y1 / H], color='black', lw=1.4))


seg(588, 42, 652, 42)
seg(652, 42, 627, 33)
seg(652, 42, 627, 51)
seg(687, 42, 1031, 42)
seg(687, 42, 713, 51)

fig.savefig('out.png', dpi=100)
plt.close(fig)
